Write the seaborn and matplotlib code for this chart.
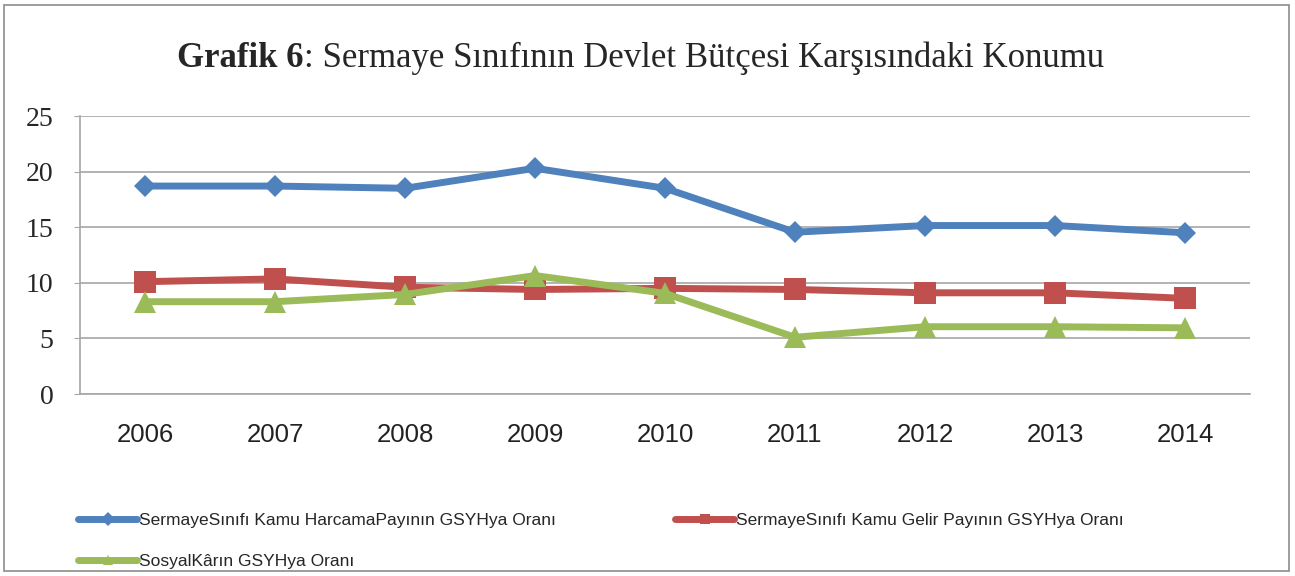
import seaborn as sns
import matplotlib.pyplot as plt
import pandas as pd
from matplotlib.lines import Line2D
from matplotlib.patches import Rectangle

years = ['2006', '2007', '2008', '2009', '2010', '2011', '2012', '2013', '2014']
harcama = [18.7, 18.7, 18.5, 20.3, 18.5, 14.55, 15.15, 15.15, 14.5]
gelir = [10.1, 10.35, 9.6, 9.4, 9.5, 9.4, 9.1, 9.1, 8.6]
sosyal_kar = [8.3, 8.3, 8.95, 10.65, 9.05, 5.1, 6.05, 6.05, 5.95]

labels = ['SermayeSınıfı Kamu HarcamaPayının GSYHya Oranı',
          'SermayeSınıfı Kamu Gelir Payının GSYHya Oranı',
          'SosyalKârın GSYHya Oranı']
colors = ['#4F81BD', '#C0504D', '#9BBB59']
markers = ['D', 's', '^']
msizes = [11, 15.5, 16]

df = pd.DataFrame({'year': years, 'h': harcama, 'g': gelir, 's': sosyal_kar})

sns.set_style('white')

fig = plt.figure(figsize=(12.95, 5.76), dpi=100)
ax = fig.add_axes([80 / 1295, 1 - 394 / 576, 1170 / 1295, 278 / 576])

for col, c, m, ms in zip(['h', 'g', 's'], colors, markers, msizes):
    sns.lineplot(data=df, x='year', y=col, ax=ax, color=c, marker=m,
                 markersize=ms, linewidth=5, markeredgewidth=0, legend=False)

ax.set_xlim(-0.5, 8.5)
ax.set_ylim(0, 25)
ax.set_yticks([0, 5, 10, 15, 20, 25])
ax.set_xlabel('')
ax.set_ylabel('')
ax.grid(axis='y', color='#a6a6a6', linewidth=1.2)
ax.set_axisbelow(True)
for s in ['top', 'right']:
    ax.spines[s].set_visible(False)
for s in ['left', 'bottom']:
    ax.spines[s].set_color('#a6a6a6')
    ax.spines[s].set_linewidth(1.2)
ax.tick_params(axis='y', length=4, color='#a6a6a6', pad=15, left=True)
ax.tick_params(axis='x', length=0, pad=21)
for t in ax.get_yticklabels():
    t.set_fontfamily('Liberation Serif')
    t.set_fontsize(20)
for t in ax.get_xticklabels():
    t.set_fontfamily('Liberation Sans')
    t.set_fontsize(18.5)
    t.set_color('#222222')

# title: bold part + regular part
ty = 1 - 67 / 576
bold = fig.text(177 / 1295, ty, 'Grafik 6', ha='left', va='baseline',
                fontfamily='Liberation Serif', fontweight='bold', fontsize=25)
renderer = fig.canvas.get_renderer()
bx = bold.get_window_extent(renderer).x1 / fig.bbox.width
fig.text(bx, ty, ': Sermaye Sınıfının Devlet Bütçesi Karşısındaki Konumu',
         ha='left', va='baseline', fontfamily='Liberation Serif', fontsize=25)

# legend
handles = [Line2D([], [], color=c, marker=m, markersize=7, linewidth=5, markeredgewidth=0)
           for c, m in zip(colors, markers)]
leg_kw = dict(loc='upper left', frameon=False, handlelength=3.4, handletextpad=0.1,
              borderpad=0, borderaxespad=0, labelspacing=1.48,
              prop={'family': 'Liberation Sans', 'size': 12.5})
fig.legend([handles[0], handles[2]], [labels[0], labels[2]],
           bbox_to_anchor=(78 / 1295, 1 - 513 / 576), **leg_kw)
fig.legend([handles[1]], [labels[1]],
           bbox_to_anchor=(675 / 1295, 1 - 513 / 576), **leg_kw)

fig.add_artist(Rectangle((4 / 1295, 5 / 576), 1285 / 1295, 566 / 576,
                         transform=fig.transFigure, fill=False,
                         edgecolor='#8c8c8c', linewidth=1.2))

fig.savefig('out.png', dpi=100, facecolor='white')
